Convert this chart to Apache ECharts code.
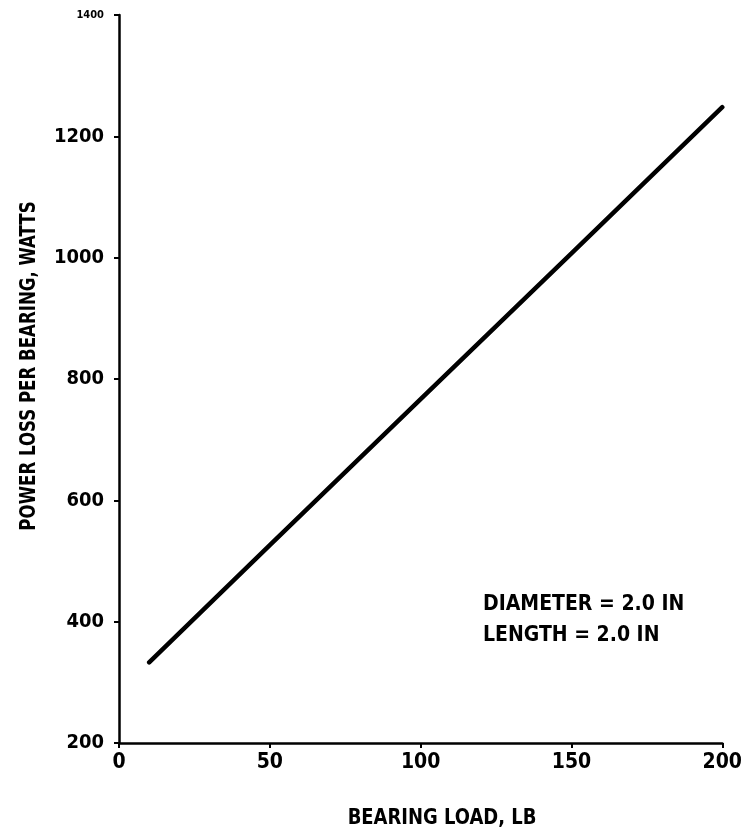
<!DOCTYPE html>
<html><head><meta charset="utf-8">
<script src="https://cdn.jsdelivr.net/npm/echarts@6/dist/echarts.min.js"></script>
<style>html,body{margin:0;padding:0;background:#fff}#c{width:745px;height:831px}</style>
</head><body><div id="c"></div>
<script>
const loads = [10, 50, 100, 150, 200];
const powerLoss = [333, 526, 767, 1007, 1248];
const xTicks = [0, 50, 100, 150, 200];
const yTicks = [200, 400, 600, 800, 1000, 1200, 1400];
const xTitle = 'BEARING LOAD, LB';
const yTitle = 'POWER LOSS PER BEARING, WATTS';
const notes = ['DIAMETER = 2.0 IN', 'LENGTH = 2.0 IN'];

const FF = '"Liberation Sans Narrow","DejaVu Sans Condensed","Roboto Condensed",sans-serif';
const chart = echarts.init(document.getElementById('c'));
chart.setOption({
  animation: false,
  backgroundColor: '#fff',
  grid: {left: 119, right: 20, top: 15, bottom: 88},
  xAxis: {
    type: 'value', min: xTicks[0], max: xTicks[xTicks.length-1], interval: 50,
    axisLine: {lineStyle: {color: '#000', width: 2.5}},
    axisTick: {show: true, length: 5, lineStyle: {color: '#000', width: 2}},
    splitLine: {show: false},
    axisLabel: {color: '#000', fontFamily: FF, fontWeight: 'bold', fontSize: 21, margin: 9}
  },
  yAxis: {
    type: 'value', min: yTicks[0], max: yTicks[yTicks.length-1], interval: 200,
    axisLine: {show: true, lineStyle: {color: '#000', width: 2.5}},
    axisTick: {show: true, length: 5, lineStyle: {color: '#000', width: 2}},
    splitLine: {show: false},
    axisLabel: {color: '#000', fontFamily: FF, fontWeight: 'bold', fontSize: 20, margin: 15,
      formatter: v => v === 1400 ? '{s|' + v + '}' : String(v),
      rich: {s: {fontSize: 11, fontFamily: FF, fontWeight: 'bold', color: '#000'}}}
  },
  series: [{
    type: 'line', data: loads.map((x, i) => [x, powerLoss[i]]),
    showSymbol: false, lineStyle: {color: '#000', width: 4.5, cap: 'round'}
  }],
  graphic: [
    {type: 'text', x: 442, y: 819, scaleX: 0.95, style: {text: xTitle, font: 'bold 21px ' + FF, fill: '#000', align: 'center', verticalAlign: 'middle'}},
    {type: 'text', x: 30, y: 366, rotation: Math.PI/2, scaleX: 0.88, style: {text: yTitle, font: 'bold 21px ' + FF, fill: '#000', align: 'center', verticalAlign: 'middle'}},
    {type: 'text', left: 483, top: 589, style: {text: notes.join('\n'), font: 'bold 21px ' + FF, fill: '#000', lineHeight: 31}}
  ]
});
</script></body></html>
